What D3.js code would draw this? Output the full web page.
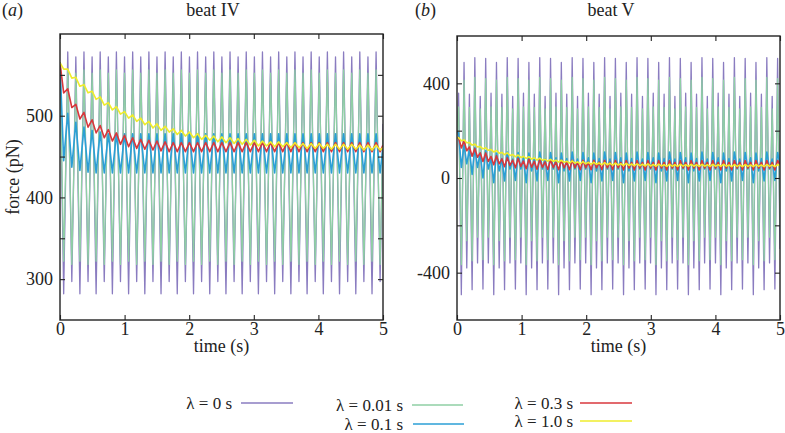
<!DOCTYPE html>
<html><head><meta charset="utf-8">
<script src="https://cdn.jsdelivr.net/npm/d3@7"></script>
<style>
body{margin:0;background:#fff}
svg{display:block}
text{font-family:"Liberation Serif","Times New Roman",serif;fill:#222}
</style>
</head><body>
<svg id="chart" width="785" height="433"></svg>
<script>
// ---------------- DATA (turning points of each trace) ----------------
const seriesNames = ["λ = 0 s", "λ = 0.01 s", "λ = 0.1 s", "λ = 0.3 s", "λ = 1.0 s"];
const seriesColors = ["#8a7cc0", "#8fcfa5", "#2b9fd6", "#d8373c", "#efec2c"];

// panel (a) beat IV : sample times (s) at start, each turning point, end
const timeA = [0,
 0.057,0.120,0.183,0.245,0.308,0.371,0.434,0.497,0.559,0.622,
 0.685,0.748,0.811,0.873,0.936,0.999,1.062,1.125,1.187,1.250,
 1.313,1.376,1.439,1.501,1.564,1.627,1.690,1.753,1.815,1.878,
 1.941,2.004,2.067,2.129,2.192,2.255,2.318,2.381,2.443,2.506,
 2.569,2.632,2.695,2.757,2.820,2.883,2.946,3.009,3.071,3.134,
 3.197,3.260,3.323,3.385,3.448,3.511,3.574,3.637,3.699,3.762,
 3.825,3.888,3.951,4.013,4.076,4.139,4.202,4.265,4.327,4.390,
 4.453,4.516,4.579,4.641,4.704,4.767,4.830,4.893,4.955,
 5];
const forceA_l0 = [565,
 282,578,297,572,282,578,297,572,282,578,297,572,282,578,297,572,
 282,578,297,572,282,578,297,572,282,578,297,572,282,578,297,572,
 282,578,297,572,282,578,297,572,282,578,297,572,282,578,297,572,
 282,578,297,572,282,578,297,572,282,578,297,572,282,578,297,572,
 282,578,297,572,282,578,297,572,282,578,297,572,
 282,578,297,
 490];
const forceA_l001 = [565,
 322,556,318,552,322,556,318,552,322,556,318,552,322,556,318,552,
 322,556,318,552,322,556,318,552,322,556,318,552,322,556,318,552,
 322,556,318,552,322,556,318,552,322,556,318,552,322,556,318,552,
 322,556,318,552,322,556,318,552,322,556,318,552,322,556,318,552,
 322,556,318,552,322,556,318,552,322,556,318,552,
 322,556,318,
 480];
const forceA_l01 = [565,
 445,503,437,492,433,486,431,482,430,480,
 430,478,430,478,430,478,430,478,430,478,430,478,430,478,430,478,
 430,478,430,478,430,478,430,478,430,478,430,478,430,478,430,478,
 430,478,430,478,430,478,430,478,430,478,430,478,430,478,430,478,
 430,478,430,478,430,478,430,478,430,478,430,478,430,478,430,478,
 430,478,430,478,
 430,
 462];
const forceA_l03 = [565,
 528,533,510,514,496,504,486,495,479,488,473,483,469,479,465,476,
 462,473,460,471,459,470,458,469,457,468,
 456,467,456,467,456,467,456,467,456,467,456,467,456,467,456,467,
 456,467,456,467,456,467,456,467,456,467,456,467,456,467,456,467,
 456,467,456,467,456,467,456,467,456,467,456,467,456,467,456,467,
 456,467,456,467,
 456,
 464];
const forceA_l1 = [565,
 557,557,546,547,536,538,528,530,520,523,
 513,516,507,511,502,505,497,501,493,497,
 489,493,485,490,482,487,480,484,477,482,
 475,480,473,478,471,476,470,475,468,474,
 467,473,466,472,465,471,464,470,463,469,
 463,468,462,468,462,467,461,467,461,466,
 460,466,460,466,460,465,459,465,459,465,
 459,465,459,464,458,464,458,464,458,
 461];

// panel (b) beat V
const timeB = [0,
 0.025,0.067,0.109,0.151,0.192,0.234,0.276,0.318,0.360,0.402,
 0.444,0.485,0.527,0.569,0.611,0.653,0.695,0.736,0.778,0.820,
 0.862,0.904,0.946,0.988,1.029,1.071,1.113,1.155,1.197,1.239,
 1.281,1.322,1.364,1.406,1.448,1.490,1.532,1.573,1.615,1.657,
 1.699,1.741,1.783,1.825,1.866,1.908,1.950,1.992,2.034,2.076,
 2.118,2.159,2.201,2.243,2.285,2.327,2.369,2.410,2.452,2.494,
 2.536,2.578,2.620,2.662,2.703,2.745,2.787,2.829,2.871,2.913,
 2.955,2.996,3.038,3.080,3.122,3.164,3.206,3.247,3.289,3.331,
 3.373,3.415,3.457,3.499,3.540,3.582,3.624,3.666,3.708,3.750,
 3.792,3.833,3.875,3.917,3.959,4.001,4.043,4.084,4.126,4.168,
 4.210,4.252,4.294,4.336,4.377,4.419,4.461,4.503,4.545,4.587,
 4.628,4.670,4.712,4.754,4.796,4.838,4.879,4.921,4.963,
 5];
const forceB_l0 = [180,
 358,-493,488,-380,354,-472,509,-359,345,-469,505,-359,
 358,-493,488,-380,354,-472,509,-359,345,-469,505,-359,
 358,-493,488,-380,354,-472,509,-359,345,-469,505,-359,
 358,-493,488,-380,354,-472,509,-359,345,-469,505,-359,
 358,-493,488,-380,354,-472,509,-359,345,-469,505,-359,
 358,-493,488,-380,354,-472,509,-359,345,-469,505,-359,
 358,-493,488,-380,354,-472,509,-359,345,-469,505,-359,
 358,-493,488,-380,354,-472,509,-359,345,-469,505,-359,
 358,-493,488,-380,354,-472,509,-359,345,-469,505,-359,
 358,-493,488,-380,354,-472,509,-359,
 345,-469,505,
 -300];
const forceB_l001 = [180,
 300,-366,413,-265,298,-350,425,-250,292,-345,420,-250,
 300,-366,413,-265,298,-350,425,-250,292,-345,420,-250,
 300,-366,413,-265,298,-350,425,-250,292,-345,420,-250,
 300,-366,413,-265,298,-350,425,-250,292,-345,420,-250,
 300,-366,413,-265,298,-350,425,-250,292,-345,420,-250,
 300,-366,413,-265,298,-350,425,-250,292,-345,420,-250,
 300,-366,413,-265,298,-350,425,-250,292,-345,420,-250,
 300,-366,413,-265,298,-350,425,-250,292,-345,420,-250,
 300,-366,413,-265,298,-350,425,-250,292,-345,420,-250,
 300,-366,413,-265,298,-350,425,-250,
 292,-345,420,
 -200];
const forceB_l01 = [195,
 190,45,140,60,120,15,128,45,105,0,115,38,
 85,-20,105,30,82,-12,110,38,80,-10,108,38,
 85,-20,105,30,82,-12,110,38,80,-10,108,38,
 85,-20,105,30,82,-12,110,38,80,-10,108,38,
 85,-20,105,30,82,-12,110,38,80,-10,108,38,
 85,-20,105,30,82,-12,110,38,80,-10,108,38,
 85,-20,105,30,82,-12,110,38,80,-10,108,38,
 85,-20,105,30,82,-12,110,38,80,-10,108,38,
 85,-20,105,30,82,-12,110,38,80,-10,108,38,
 85,-20,105,30,82,-12,110,38,
 80,-10,108,
 60];
const forceB_l03 = [170,
 171,127,157,115,131,92,125,88,106,70,106,70,
 91,56,94,60,81,48,86,53,76,43,82,49,
 72,39,79,46,70,37,77,45,68,36,76,44,
 67,35,75,43,67,35,75,43,67,35,75,43,
 67,35,75,43,67,35,75,43,67,35,75,43,
 66,34,74,42,66,34,74,42,66,34,74,42,66,34,74,42,
 66,34,74,42,66,34,74,42,66,34,74,42,66,34,74,42,
 66,34,74,42,66,34,74,42,66,34,74,42,66,34,74,42,
 66,34,74,42,66,34,74,42,
 66,34,74,
 55];
const forceB_l1 = [172,
 170,157,161,149,150,139,143,131,133,123,128,117,
 120,110,116,105,108,99,106,95,99,90,97,87,
 91,83,90,80,85,76,84,75,79,71,79,70,
 75,67,75,66,71,63,72,63,68,60,69,60,
 66,58,66,58,63,56,65,56,62,54,63,55,
 60,53,62,53,59,52,60,52,58,51,60,51,
 57,50,59,51,
 56,49,58,50,56,49,58,50,56,49,58,50,
 56,49,58,50,56,49,58,50,56,49,58,50,
 55,48,57,49,55,48,57,49,55,48,57,49,55,48,57,49,
 55,48,57,
 52];

const timeTicks = [0, 1, 2, 3, 4, 5];
const yTicksA = [300, 350, 400, 450, 500, 550];
const yLabelsA = [300, 400, 500];
const yTicksB = [-400, -200, 0, 200, 400];
const yLabelsB = [-400, 0, 400];

// ---------------- DRAWING ----------------
const svg = d3.select("#chart");
const FS = 18;

const panels = [
  {id:"a", time:timeA, series:[forceA_l0, forceA_l001, forceA_l01, forceA_l03, forceA_l1],
   box:{x0:60, x1:383, y0:34, y1:320}, ydom:[250, 600], yticks:yTicksA, ylabels:yLabelsA,
   title:"beat IV", titleX:213, tagX:2},
  {id:"b", time:timeB, series:[forceB_l0, forceB_l001, forceB_l01, forceB_l03, forceB_l1],
   box:{x0:457, x1:780, y0:36, y1:320}, ydom:[-600, 600], yticks:yTicksB, ylabels:yLabelsB,
   title:"beat V", titleX:611, tagX:415}
];

panels.forEach(p => {
  const b = p.box;
  const x = d3.scaleLinear().domain([0, 5]).range([b.x0, b.x1]);
  const y = d3.scaleLinear().domain(p.ydom).range([b.y1, b.y0]);

  svg.append("clipPath").attr("id", "clip-" + p.id)
    .append("rect").attr("x", b.x0).attr("y", b.y0)
    .attr("width", b.x1 - b.x0).attr("height", b.y1 - b.y0);

  const g = svg.append("g").attr("clip-path", `url(#clip-${p.id})`);
  const line = d3.line().x(d => x(d[0])).y(d => y(d[1]));
  const widths = [1.3, 1.3, 1.6, 1.6, 1.6];
  p.series.forEach((vals, i) => {
    g.append("path")
      .datum(d3.zip(p.time, vals))
      .attr("fill", "none")
      .attr("stroke", seriesColors[i])
      .attr("stroke-width", widths[i])
      .attr("stroke-linejoin", "round")
      .attr("d", line);
  });

  const styleAxis = sel => {
    sel.select(".domain").remove();
    sel.selectAll(".tick line").attr("stroke", "#222").attr("stroke-width", 1.1);
    sel.selectAll("text").attr("font-size", FS).attr("font-family", '"Liberation Serif", serif').attr("fill", "#222");
  };
  svg.append("g").attr("transform", `translate(0,${b.y1})`)
    .call(d3.axisBottom(x).tickValues(timeTicks).tickSize(-5).tickPadding(2).tickFormat(d3.format("d")))
    .call(styleAxis);
  svg.append("g").attr("transform", `translate(0,${b.y0})`)
    .call(d3.axisTop(x).tickValues(timeTicks).tickSize(-5).tickFormat(""))
    .call(styleAxis);
  svg.append("g").attr("transform", `translate(${b.x0},0)`)
    .call(d3.axisLeft(y).tickValues(p.yticks).tickSize(-5).tickPadding(7)
      .tickFormat(d => p.ylabels.includes(d) ? String(d) : ""))
    .call(styleAxis);
  svg.append("g").attr("transform", `translate(${b.x1},0)`)
    .call(d3.axisRight(y).tickValues(p.yticks).tickSize(-5).tickFormat(""))
    .call(styleAxis);

  svg.append("rect").attr("x", b.x0).attr("y", b.y0)
    .attr("width", b.x1 - b.x0).attr("height", b.y1 - b.y0)
    .attr("fill", "none").attr("stroke", "#222").attr("stroke-width", 1.4);

  svg.append("text").attr("x", (b.x0 + b.x1) / 2).attr("y", 352)
    .attr("text-anchor", "middle").attr("font-size", FS).text("time (s)");
  svg.append("text").attr("x", p.titleX).attr("y", 16)
    .attr("text-anchor", "middle").attr("font-size", FS).text(p.title);
  const tag = svg.append("text").attr("x", p.tagX).attr("y", 16).attr("font-size", FS);
  tag.append("tspan").text("(");
  tag.append("tspan").attr("font-style", "italic").text(p.id);
  tag.append("tspan").text(")");
});

svg.append("text").attr("transform", "translate(19,177) rotate(-90)")
  .attr("text-anchor", "middle").attr("font-size", FS).text("force (pN)");

// legend
const LFS = 17;
const legendPos = [
  {tx:232, lx0:241, lx1:293, y:403},
  {tx:403, lx0:412, lx1:463, y:405},
  {tx:403, lx0:413, lx1:464, y:424},
  {tx:573, lx0:580, lx1:632, y:403},
  {tx:573, lx0:580, lx1:632, y:421}
];
seriesNames.forEach((name, i) => {
  const L = legendPos[i];
  svg.append("text").attr("x", L.tx).attr("y", L.y).attr("dy", "0.33em")
    .attr("text-anchor", "end").attr("font-size", LFS).text(name);
  svg.append("line").attr("x1", L.lx0).attr("x2", L.lx1).attr("y1", L.y).attr("y2", L.y)
    .attr("stroke", seriesColors[i]).attr("stroke-width", 1.4);
});
</script>
</body></html>
